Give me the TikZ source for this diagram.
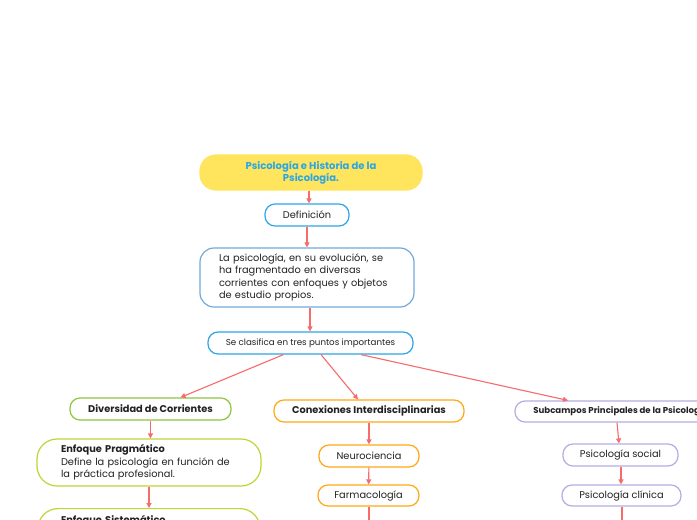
\documentclass[tikz,border=0pt]{standalone}
\usepackage{fontspec}
\setmainfont{Poppins}
\usetikzlibrary{arrows.meta}
\definecolor{arr}{HTML}{F76B6B}
\definecolor{ttl}{HTML}{FFE45E}
\definecolor{ttltext}{HTML}{2AA7E2}
\definecolor{bblue}{HTML}{2EA6E6}
\definecolor{lblue}{HTML}{72A9DA}
\definecolor{bgreen}{HTML}{8DC63F}
\definecolor{ygreen}{HTML}{BFD535}
\definecolor{borange}{HTML}{FFA816}
\definecolor{lav}{HTML}{B3AEE2}
\definecolor{txt}{HTML}{222222}
\tikzset{
  box/.style={draw, line width=1.2pt, fill=white, rounded corners=10pt, inner sep=0pt, align=center, text=txt},
  con/.style={draw=arr, line width=1.1pt, -{Triangle[length=5pt,width=5pt]}},
  fs/.style={font=\fontsize{9.8}{12}\selectfont},
  fb/.style={font=\fontsize{9.8}{12}\selectfont\bfseries},
}
\begin{document}
\begin{tikzpicture}[x=1pt,y=-1pt]
\useasboundingbox (0,0) rectangle (697,520);
\clip (0,0) rectangle (697,520);
\fill[white] (0,0) rectangle (697,520);

\node[box, draw=ttl, fill=ttl, text=ttltext, minimum width=222pt, minimum height=35pt, rounded corners=16pt, font=\fontsize{10}{12}\selectfont\bfseries] (title) at (311,172.5) {Psicología e Historia de la\\Psicología.};
\node[box, draw=bblue, fs, minimum width=84pt, minimum height=22pt] (def) at (307,215) {Definición};
\node[box, draw=lblue, minimum width=214pt, minimum height=59pt, rounded corners=14pt, text width=176pt, align=left, font=\fontsize{9.8}{12.5}\selectfont] (par) at (307,277.5) {La psicología, en su evolución, se\\ha fragmentado en diversas\\corrientes con enfoques y objetos\\de estudio propios.};
\node[box, draw=bblue, font=\fontsize{8.7}{10}\selectfont, minimum width=205pt, minimum height=22pt] (cls) at (310.5,343) {Se clasifica en tres puntos importantes};

\node[box, draw=bgreen, fb, minimum width=161pt, minimum height=22pt] (div) at (150.5,409) {Diversidad de Corrientes};
\node[box, draw=ygreen, minimum width=224pt, minimum height=47pt, rounded corners=20pt, text width=176pt, align=left, font=\fontsize{9.8}{12.3}\selectfont] (prag) at (149,462.5) {\textbf{Enfoque Pragmático}\\Define la psicología en función de\\la práctica profesional.};
\node[box, draw=ygreen, minimum width=222pt, inner ysep=7pt, rounded corners=20pt, text width=176pt, align=left, anchor=north, font=\fontsize{9.8}{12.3}\selectfont] (sis) at (149,508) {\textbf{Enfoque Sistemático}\\\strut\\\strut};

\node[box, draw=borange, fb, minimum width=190pt, minimum height=22pt] (con) at (369,411) {Conexiones Interdisciplinarias};
\node[box, draw=borange, fs, minimum width=100pt, minimum height=22pt] (neu) at (369,456) {Neurociencia};
\node[box, draw=borange, fs, minimum width=101pt, minimum height=21pt] (far) at (368.5,495.5) {Farmacología};
\coordinate (farend) at (369,530);

\node[box, draw=lav, font=\fontsize{8.6}{10}\selectfont\bfseries, minimum width=212pt, minimum height=21pt] (sub) at (621,411.5) {Subcampos Principales de la Psicología};
\node[box, draw=lav, fs, minimum width=115pt, minimum height=22pt] (soc) at (620.5,455) {Psicología social};
\node[box, draw=lav, fs, minimum width=119pt, minimum height=21pt] (cli) at (621.5,495.5) {Psicología clínica};
\coordinate (cliend) at (622,530);

\draw[con] (title.south -| 309,0) -- (def.north -| 309,0);
\draw[con] (def) -- (par);
\draw[con] ([xshift=3pt]par.south) -- (cls.north -| 310,0);
\draw[con] ([xshift=-27pt]cls.south) -- ([xshift=30pt]div.north);
\draw[con] ([xshift=10.5pt]cls.south) -- ([xshift=-11pt]con.north);
\draw[con] ([xshift=50.5pt]cls.south) -- ([xshift=-53pt]sub.north);
\draw[con] (div) -- (div |- prag.north);
\draw[con] (prag.south) -- (sis.north);
\draw[con] (con) -- (neu);
\draw[con] (neu) -- (far);
\draw[con] (far.south -| farend) -- (farend);
\draw[con] ([xshift=-4pt]sub.south) -- ([xshift=-1.5pt]soc.north);
\draw[con] (soc.south -| 621,0) -- (cli.north -| 621,0);
\draw[con] (cli.south -| cliend) -- (cliend);
\end{tikzpicture}
\end{document}
